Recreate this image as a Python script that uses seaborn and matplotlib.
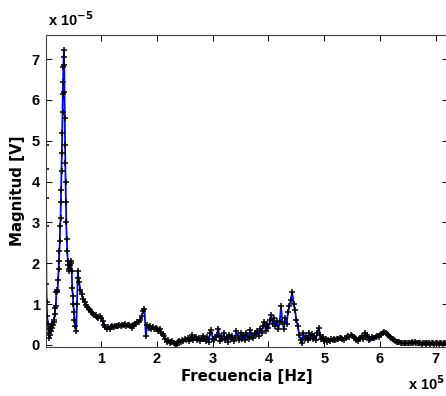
import numpy as np
import pandas as pd
import matplotlib
matplotlib.use("Agg")
import matplotlib.pyplot as plt
import seaborn as sns

# Frequency in units of 1e5 Hz, magnitude in units of 1e-5 V
freq_low = [0.000, 0.004, 0.008, 0.012, 0.016, 0.022, 0.030, 0.045, 0.055, 0.065,
            0.075, 0.085, 0.095, 0.105, 0.115, 0.125, 0.135, 0.145, 0.155, 0.165,
            0.175, 0.185, 0.195, 0.205, 0.215, 0.225, 0.235, 0.242, 0.249, 0.256,
            0.263, 0.270, 0.276, 0.282, 0.288, 0.294, 0.300, 0.305, 0.310, 0.315,
            0.320, 0.325, 0.330, 0.335, 0.340, 0.345, 0.350, 0.355, 0.360, 0.366,
            0.372, 0.380, 0.390, 0.400, 0.410, 0.420, 0.430, 0.440, 0.450, 0.460,
            0.470, 0.480, 0.490, 0.500, 0.510, 0.520, 0.535, 0.550, 0.565, 0.580,
            0.590]
mag_low = [4.90, 4.30, 3.60, 2.90, 1.50, 1.05, 0.70, 0.50, 0.30, 0.17,
           0.25, 0.40, 0.35, 0.45, 0.42, 0.50, 0.48, 0.55, 0.60, 0.75,
           0.90, 0.95, 1.30, 1.35, 1.30, 1.60, 1.85, 2.05, 2.30, 2.55,
           2.90, 3.10, 3.50, 3.80, 4.25, 4.70, 5.20, 5.70, 6.15, 6.45,
           6.80, 7.05, 7.22, 6.85, 6.20, 5.55, 4.90, 4.45, 4.00, 3.50,
           3.00, 2.60, 2.30, 2.05, 1.95, 1.85, 1.80, 1.95, 2.05, 2.00,
           1.80, 1.40, 1.20, 1.00, 0.80, 0.60, 0.45, 0.35, 1.00, 1.80,
           1.65]

# uniform FFT bins from 0.6e5 Hz with 0.025e5 Hz spacing
bin_start = 0.6
bin_step = 0.025
mag_high = [
    1.55, 1.35, 1.25, 1.12, 1.05, 0.98, 0.93, 0.88, 0.85, 0.80,
    0.76, 0.74, 0.72, 0.68, 0.65, 0.70, 0.66, 0.58, 0.48, 0.44,
    0.40, 0.43, 0.38, 0.44, 0.45, 0.43, 0.46, 0.47, 0.45, 0.48,
    0.47, 0.49, 0.48, 0.50, 0.47, 0.49, 0.48, 0.46, 0.42, 0.48,
    0.50, 0.52, 0.55, 0.56, 0.62, 0.70, 0.82, 0.87, 0.22, 0.48,
    0.42, 0.45, 0.40, 0.44, 0.38, 0.42, 0.40, 0.35, 0.38, 0.30,
    0.27, 0.22, 0.15, 0.08, 0.12, 0.05, 0.08, 0.10, 0.04, 0.02,
    0.00, 0.06, 0.10, 0.08, 0.12, 0.10, 0.15, 0.12, 0.18, 0.10,
    0.14, 0.24, 0.12, 0.17, 0.20, 0.12, 0.18, 0.10, 0.14, 0.22,
    0.15, 0.10, 0.20, 0.08, 0.28, 0.37, 0.15, 0.12, 0.20, 0.25,
    0.40, 0.10, 0.22, 0.15, 0.28, 0.12, 0.20, 0.08, 0.25, 0.15,
    0.22, 0.10, 0.18, 0.33, 0.22, 0.12, 0.28, 0.15, 0.25, 0.12,
    0.30, 0.20, 0.15, 0.37, 0.22, 0.18, 0.30, 0.25, 0.35, 0.22,
    0.40, 0.30, 0.45, 0.55, 0.35, 0.50, 0.42, 0.60, 0.73, 0.50,
    0.65, 0.45, 0.58, 0.38, 0.55, 0.94, 0.55, 0.40, 0.65, 0.52,
    0.80, 0.95, 1.10, 1.30, 1.00, 0.85, 0.62, 0.45, 0.25, 0.12,
    0.05, 0.28, 0.15, 0.22, 0.12, 0.30, 0.18, 0.26, 0.15, 0.22,
    0.12, 0.30, 0.42, 0.25, 0.15, 0.20, 0.10, 0.15, 0.08, 0.12,
    0.10, 0.15, 0.12, 0.14, 0.13, 0.15, 0.14, 0.16, 0.17, 0.15,
    0.13, 0.18, 0.20, 0.22, 0.20, 0.24, 0.21, 0.19, 0.16, 0.12,
    0.10, 0.14, 0.18, 0.22, 0.15, 0.30, 0.20, 0.25, 0.12, 0.15,
    0.20, 0.18, 0.16, 0.19, 0.21, 0.20, 0.24, 0.27, 0.30, 0.32,
    0.30, 0.26, 0.24, 0.20, 0.17, 0.15, 0.12, 0.10, 0.08, 0.07,
    0.06, 0.05, 0.05, 0.04, 0.05, 0.04, 0.04, 0.05, 0.04, 0.06,
    0.05, 0.06, 0.04, 0.05, 0.04, 0.04, 0.03, 0.04, 0.04, 0.03,
    0.04, 0.04, 0.03, 0.04, 0.04, 0.03, 0.04, 0.04, 0.03, 0.04,
    0.04, 0.03, 0.04, 0.04, 0.03,
]
freq_high = list(np.round(bin_start + bin_step * np.arange(len(mag_high)), 4))

x_ticks = [1, 2, 3, 4, 5, 6, 7]
y_ticks = [0, 1, 2, 3, 4, 5, 6, 7]

df = pd.DataFrame({"f": freq_low + freq_high, "m": mag_low + mag_high})

sns.set_style("white")
plt.rcParams["font.family"] = ["Liberation Sans", "DejaVu Sans"]
plt.rcParams["font.weight"] = "bold"
plt.rcParams["text.color"] = "black"
plt.rcParams["axes.labelcolor"] = "black"
plt.rcParams["xtick.color"] = "black"
plt.rcParams["ytick.color"] = "black"

fig = plt.figure(figsize=(4.46, 3.96), dpi=100)
ax = fig.add_axes([45.5 / 446, 1 - 346.5 / 396, (448 - 45.5) / 446, (346.5 - 35) / 396])

sns.lineplot(data=df, x="f", y="m", sort=False, estimator=None, ax=ax,
             color="#0000ff", linewidth=1.3, marker="+", markersize=4,
             markeredgecolor="black", markeredgewidth=1.1, markerfacecolor="black")

ax.set_xlim(0, 7.22)
ax.set_ylim(-0.04, 7.59)
ax.set_xticks(x_ticks)
ax.set_yticks(y_ticks)
ax.set_xticklabels([str(t) for t in x_ticks], fontsize=10.5, fontweight="bold")
ax.set_yticklabels([str(t) for t in y_ticks], fontsize=10.5, fontweight="bold")
ax.tick_params(direction="in", length=4, width=0.7, colors="black",
               top=True, right=True, bottom=True, left=True, pad=4)
for s in ax.spines.values():
    s.set_color("#444444")
    s.set_linewidth(0.8)
    s.set_visible(True)

ax.set_xlabel("Frecuencia [Hz]", fontsize=10.8, fontweight="bold", labelpad=2,
              family="DejaVu Sans", color="black")
ax.set_ylabel("Magnitud [V]", fontsize=10.8, fontweight="bold", labelpad=5,
              family="DejaVu Sans", color="black")

fig.text(48 / 446, 1 - 20 / 396, r"x 10$^{\mathbf{-5}}$", fontsize=10.5, fontweight="bold",
         ha="left", va="center", color="black")
fig.text(408 / 446, 1 - 384 / 396, r"x 10$^{\mathbf{5}}$", fontsize=10.5, fontweight="bold",
         ha="left", va="center", color="black")

fig.savefig("out.png", dpi=100)
